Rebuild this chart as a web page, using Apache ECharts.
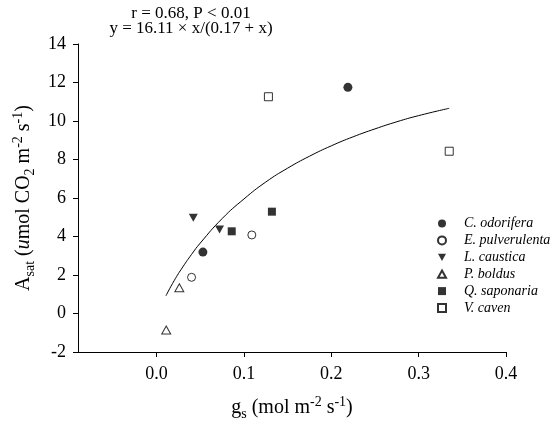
<!DOCTYPE html>
<html>
<head>
<meta charset="utf-8">
<script src="https://cdn.jsdelivr.net/npm/echarts@6/dist/echarts.min.js"></script>
<style>html,body{margin:0;padding:0;background:#fff}#c{width:550px;height:433px}</style>
</head>
<body>
<div id="c"></div>
<script>
// Data
var speciesNames = ['C. odorifera', 'E. pulverulenta', 'L. caustica', 'P. boldus', 'Q. saponaria', 'V. caven'];
var cOdorifera = [[0.053, 3.19], [0.219, 11.75]];
var ePulverulenta = [[0.040, 1.88], [0.109, 4.08]];
var lCaustica = [[0.042, 4.98], [0.072, 4.37]];
var pBoldus = [[0.026, 1.34], [0.011, -0.86]];
var qSaponaria = [[0.086, 4.27], [0.132, 5.29]];
var vCaven = [[0.128, 11.26], [0.335, 8.43]];
// fitted curve y = 16.11 x/(0.17 + x)
var fitCurve = [[0.0107, 0.92], [0.02, 1.70], [0.03, 2.42], [0.04, 3.07], [0.05, 3.66], [0.075, 4.93],
  [0.1, 5.95], [0.125, 6.83], [0.15, 7.55], [0.175, 8.17], [0.2, 8.71], [0.225, 9.18],
  [0.25, 9.59], [0.275, 9.96], [0.3, 10.28], [0.335, 10.66]];
var xTicks = [0, 0.1, 0.2, 0.3, 0.4];
var yTicks = [-2, 0, 2, 4, 6, 8, 10, 12, 14];
var statLines = ['r = 0.68, P < 0.01', 'y = 16.11 \u00d7 x/(0.17 + x)'];

var serif = 'Liberation Serif';
var downTri = 'path://M0,0 L10,0 L5,9 Z';
var upTri = 'path://M5,0 L10,9 L0,9 Z';

function sc(name, data, symbol, size, filled) {
  return {
    name: name, type: 'scatter', data: data, symbol: symbol, symbolSize: size,
    itemStyle: filled ? { color: '#000', borderColor: '#000', borderWidth: 0 } : { color: '#fff', borderColor: '#000', borderWidth: 1 },
    emphasis: { disabled: true }
  };
}

var chart = echarts.init(document.getElementById('c'));
var axisNameRich = {
  n: { fontFamily: serif, fontSize: 20, color: '#000', lineHeight: 26, verticalAlign: 'middle' },
  it: { fontFamily: serif, fontSize: 20, color: '#000', fontStyle: 'italic', lineHeight: 26, verticalAlign: 'middle' },
  sub: { fontFamily: serif, fontSize: 14, color: '#000', verticalAlign: 'bottom', lineHeight: 14 },
  sup: { fontFamily: serif, fontSize: 14, color: '#000', verticalAlign: 'top', lineHeight: 14 }
};
chart.setOption({
  animation: false,
  backgroundColor: '#fff',
  title: {
    text: statLines.join('\n'),
    left: 186, top: 1, textAlign: 'center',
    textStyle: { fontFamily: serif, fontSize: 17, fontWeight: 'normal', color: '#000', lineHeight: 15 }
  },
  grid: { left: 78, right: 44, top: 44, bottom: 81, containLabel: false },
  legend: {
    data: speciesNames,
    orient: 'vertical', left: 437, top: 215.5, padding: 0,
    itemWidth: 8, itemHeight: 8, itemGap: 0.9,
    textStyle: { fontFamily: serif, fontSize: 14, fontStyle: 'italic', color: '#000', lineHeight: 16, padding: [0, 0, 0, 13] },
    selectedMode: false
  },
  xAxis: {
    type: 'value', min: -0.09, max: 0.4,
    name: '{n|g}{sub|s}{n| (mol m}{sup|-2}{n| s}{sup|-1}{n|)}',
    nameLocation: 'middle', nameGap: 43,
    nameTextStyle: { rich: axisNameRich },
    splitLine: { show: false },
    axisLine: { show: true, onZero: false, lineStyle: { color: '#000', width: 1 } },
    axisTick: { show: true, inside: false, length: 5, customValues: xTicks, lineStyle: { color: '#000' } },
    axisLabel: { customValues: xTicks, margin: 13, fontFamily: serif, fontSize: 18, color: '#000',
      formatter: function (v) { return v.toFixed(1); } }
  },
  yAxis: {
    type: 'value', min: -2, max: 14, interval: 2,
    name: '{n|A}{sub|sat}{n| (}{it|u}{n|mol CO}{sub|2}{n| m}{sup|-2}{n| s}{sup|-1}{n|)}',
    nameLocation: 'middle', nameGap: 41, nameRotate: 90,
    nameTextStyle: { rich: axisNameRich },
    splitLine: { show: false },
    axisLine: { show: true, onZero: false, lineStyle: { color: '#000', width: 1 } },
    axisTick: { show: true, inside: false, length: 5, lineStyle: { color: '#000' } },
    axisLabel: { margin: 12, fontFamily: serif, fontSize: 18, color: '#000',
      formatter: function (v) { return yTicks.indexOf(v) >= 0 ? String(v) : ''; } }
  },
  series: [
    sc(speciesNames[0], cOdorifera, 'circle', 9, true),
    sc(speciesNames[1], ePulverulenta, 'circle', 8, false),
    sc(speciesNames[2], lCaustica, downTri, [9, 8], true),
    sc(speciesNames[3], pBoldus, upTri, [9, 8], false),
    sc(speciesNames[4], qSaponaria, 'rect', 8, true),
    sc(speciesNames[5], vCaven, 'rect', 8, false),
    {
      name: 'fit', type: 'line', data: fitCurve, smooth: true, showSymbol: false, symbol: 'none',
      lineStyle: { color: '#000', width: 1 }, z: 1, emphasis: { disabled: true }
    }
  ]
});
</script>
</body>
</html>
